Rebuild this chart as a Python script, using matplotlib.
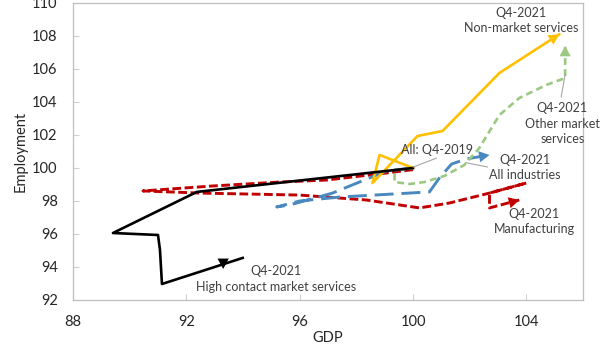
import numpy as np
import matplotlib as mpl
mpl.use('Agg')
import matplotlib.pyplot as plt

# GDP (x) and employment (y) index paths, Q4-2019 = 100
hc_x = [100.0, 92.37, 89.41, 91.0, 91.07, 91.14, 93.99]
hc_y = [100.0, 98.55, 96.06, 95.94, 95.03, 92.97, 94.55]
hc_end = (93.3, 93.88)

nm_x = [100.0, 98.82, 98.57, 100.16, 101.04, 103.05, 105.16]
nm_y = [100.0, 100.79, 99.09, 101.94, 102.24, 105.76, 108.1]

om_x = [100.0, 99.35, 99.35, 99.88, 100.41, 101.11, 101.81, 102.34, 103.05, 103.75, 104.7, 105.37, 105.37]
om_y = [100.0, 99.88, 99.15, 99.03, 99.15, 99.52, 100.18, 101.21, 103.21, 104.24, 105.03, 105.45, 107.4]

all_x = [100.0, 99.07, 98.11, 97.16, 95.65, 95.19, 96.0, 97.41, 100.58, 100.93, 101.36, 101.89, 102.7]
all_y = [100.0, 99.82, 99.15, 98.48, 97.76, 97.64, 98.0, 98.24, 98.55, 99.39, 100.24, 100.55, 100.79]

mf_x = [100.0, 99.07, 96.95, 95.3, 92.93, 90.47, 92.48, 96.0, 97.41, 98.36, 100.23, 101.29, 102.7, 104.0, 102.7, 102.7, 103.75]
mf_y = [99.9, 99.7, 99.27, 99.15, 98.91, 98.61, 98.48, 98.36, 98.18, 98.06, 97.58, 97.88, 98.48, 99.09, 98.48, 97.58, 98.06]

xticks = [88, 92, 96, 100, 104]
yticks = [92, 94, 96, 98, 100, 102, 104, 106, 108, 110]


def arrowhead(ax, x0, y0, x1, y1, c):
    ax.annotate('', xy=(x1, y1), xytext=(x0, y0),
                arrowprops=dict(arrowstyle='-|>,head_length=0.5,head_width=0.27',
                                color=c, lw=0, mutation_scale=15,
                                shrinkA=0, shrinkB=0))


def main():
    plt.rcParams['font.family'] = ['Lato', 'DejaVu Sans']
    fig = plt.figure(figsize=(6.05, 3.44), dpi=100)
    ax = fig.add_axes([73/605, 1-300/344, 510/605, 297/344])

    ax.plot(mf_x, mf_y, color='#c00000', lw=2.1, dashes=(3.0, 1.2))
    ax.plot(all_x, all_y, color='#4a89bf', lw=2.1, dashes=(6.5, 2.7))
    ax.plot(om_x, om_y, color='#9cc982', lw=1.9, dashes=(2.6, 1.6))
    ax.plot(nm_x, nm_y, color='#ffc000', lw=1.9)
    ax.plot(hc_x, hc_y, color='black', lw=1.9)

    arrowhead(ax, mf_x[-2], mf_y[-2], mf_x[-1], mf_y[-1], '#c00000')
    arrowhead(ax, all_x[-2], all_y[-2], all_x[-1], all_y[-1], '#4a89bf')
    arrowhead(ax, om_x[-2], om_y[-2], om_x[-1], om_y[-1], '#9cc982')
    arrowhead(ax, nm_x[-2], nm_y[-2], nm_x[-1], nm_y[-1], '#ffc000')
    arrowhead(ax, hc_end[0], 94.35, hc_end[0], hc_end[1], 'black')

    tc = '#404040'
    fs = 9
    lead = dict(arrowstyle='-', color='#a6a6a6', lw=0.8, shrinkA=0, shrinkB=0)
    ax.text(103.82, 108.94, 'Q4-2021\nNon-market services', ha='center', va='center',
            fontsize=fs, color=tc, linespacing=1.35)
    ax.text(105.27, 102.67, 'Q4-2021\nOther market\nservices', ha='center', va='center',
            fontsize=fs, color=tc, linespacing=1.35)
    ax.annotate('', xy=(105.37, 105.7), xytext=(105.23, 104.3), arrowprops=lead)
    ax.text(103.96, 100.03, 'Q4-2021\nAll industries', ha='center', va='center',
            fontsize=fs, color=tc, linespacing=1.35)
    ax.annotate('', xy=(101.85, 100.33), xytext=(102.63, 100.06), arrowprops=lead)
    ax.text(100.86, 101.09, 'All: Q4-2019', ha='center', va='center',
            fontsize=fs, color=tc)
    ax.annotate('', xy=(100.0, 100.05), xytext=(100.83, 100.6), arrowprops=lead)
    ax.text(104.28, 96.76, 'Q4-2021\nManufacturing', ha='center', va='center',
            fontsize=fs, color=tc, linespacing=1.35)
    ax.text(95.15, 93.27, 'Q4-2021\nHigh contact market services', ha='center', va='center',
            fontsize=fs, color=tc, linespacing=1.35)

    ax.set_xlim(88, 106)
    ax.set_ylim(92, 110)
    ax.set_xticks(xticks)
    ax.set_yticks(yticks)
    ax.tick_params(axis='both', direction='in', length=4, color='#d0d0d0',
                   labelsize=10.5, labelcolor='#262626', pad=11)
    for s in ax.spines.values():
        s.set_color('#bfbfbf')
        s.set_linewidth(0.9)
    ax.set_xlabel('GDP', fontsize=10.5, color='#262626', labelpad=1)
    ax.set_ylabel('Employment', fontsize=10.5, color='#262626', labelpad=3)

    fig.savefig('out.png', dpi=100)
    plt.close()


if __name__ == "__main__":
    main()
